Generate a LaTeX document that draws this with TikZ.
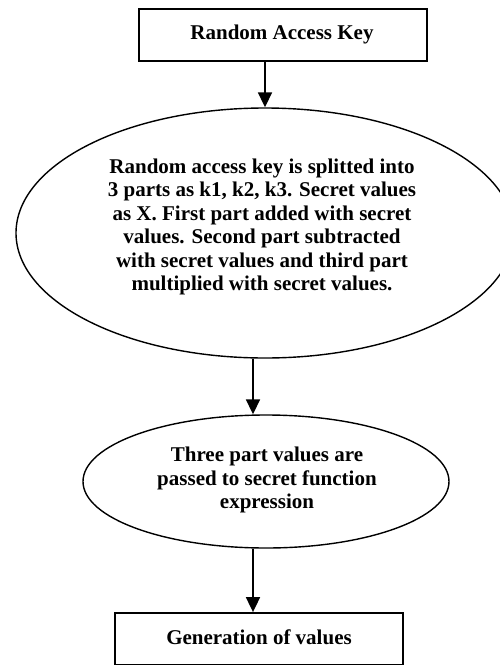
\documentclass[tikz,border=0pt]{standalone}
\usepackage{fontspec}
\setmainfont{Liberation Serif}
\usetikzlibrary{shapes.geometric,arrows.meta}
\begin{document}
\begin{tikzpicture}[x=1pt,y=-1pt,
  boxnode/.style={draw,line width=1.8pt,rectangle,inner sep=0pt},
  ellnode/.style={draw,line width=1.4pt,ellipse,inner sep=0pt},
  txt/.style={font=\fontsize{21}{23.4}\selectfont\bfseries,align=center,inner sep=0pt},
  arr/.style={line width=1.8pt,-{Triangle[length=15pt,width=14pt]}}]
\useasboundingbox (0,0) rectangle (500,665);
\node[boxnode,minimum width=288pt,minimum height=52pt] (top) at (283,35) {};
\node[txt] (toptxt) at (282,34) {Random Access Key};
\node[ellnode,minimum width=498pt,minimum height=250pt] (e1) at (265,233) {};
\node[txt] (e1txt) at (262,227) {Random access key is splitted into\\3 parts as k1, k2, k3. Secret values\\as X. First part added with secret\\values. Second part subtracted\\with secret values and third part\\multiplied with secret values.};
\node[ellnode,minimum width=366pt,minimum height=133pt] (e2) at (266,481.5) {};
\node[txt] (e2txt) at (267,480) {Three part values are\\passed to secret function\\expression};
\node[boxnode,minimum width=288pt,minimum height=51.5pt] (bot) at (259,638.75) {};
\node[txt] (bottxt) at (259,637) {Generation of values};
\draw[arr] (e1.north |- top.south) -- (e1.north);
\draw[arr] ([xshift=-12pt]e1.south) -- ([xshift=-13pt]e2.north);
\draw[arr] ([xshift=-13pt]e2.south) -- ([xshift=-6pt]bot.north);
\end{tikzpicture}
\end{document}
